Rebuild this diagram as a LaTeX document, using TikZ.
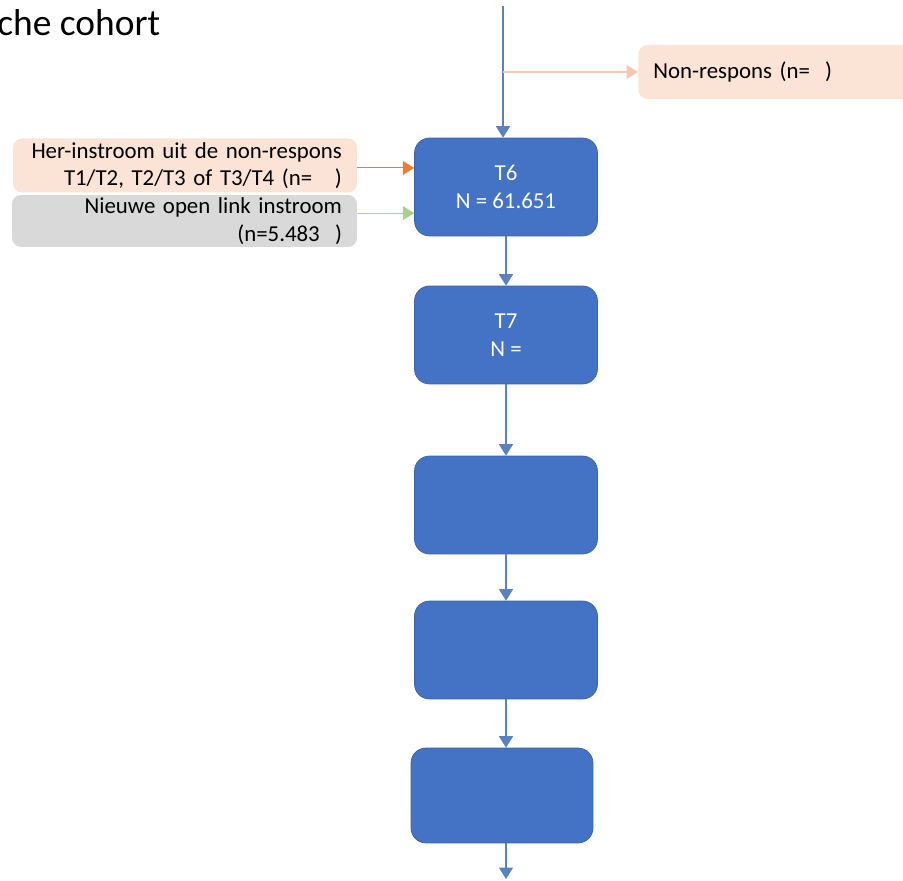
\documentclass[tikz,border=0pt]{standalone}
\usepackage{fontspec}
\setmainfont{Carlito}
\usetikzlibrary{arrows.meta,shapes,positioning,calc}
\definecolor{boxblue}{HTML}{4472C4}
\definecolor{boxborder}{HTML}{3A62A8}
\definecolor{lineblue}{HTML}{5A82C0}
\definecolor{peach}{HTML}{FBE3D5}
\definecolor{greybox}{HTML}{D9D9D9}
\definecolor{orangeline}{HTML}{ED7D31}
\definecolor{greenline}{HTML}{A9D18E}
\definecolor{peachline}{HTML}{F6C9AE}

\begin{document}
\begin{tikzpicture}[x=0.02cm,y=-0.02cm,
  wave/.style={draw=boxborder, rectangle, rounded corners=0.3cm, fill=boxblue, minimum width=3.66cm, minimum height=1.96cm, text=white, align=center, font=\fontsize{13}{15.6}\selectfont},
  sidebox/.style={rectangle, rounded corners=0.18cm, minimum height=1.08cm, inner xsep=0.3cm, inner ysep=0pt, font=\fontsize{13}{15.6}\selectfont},
  flow/.style={draw=lineblue, line width=0.6pt, -{Triangle[width=8pt,length=6.5pt]}}]
\useasboundingbox (0,0) rectangle (903,881);

% Title (cut off at the left)
\node[anchor=base west, inner sep=0pt, font=\fontsize{21.3}{25}\selectfont] (title) at (-3,36) {che cohort};

% Waves
\node[wave] (t6) at (506,187) {T6\\N = 61.651};
\node[wave] (t7) at (506,335) {T7\\N =};
\node[wave] (w8) at (506,505) {};
\node[wave] (w9) at (506,650) {};
\node[wave, minimum width=3.64cm, minimum height=1.9cm] (w10) at (502,795.5) {};

% Side boxes
\node[sidebox, fill=peach, anchor=west, minimum width=5.6cm, text width=5.0cm, align=left] (nonresp) at (638,72) {Non-respons (n=\ \ )};
\node[sidebox, fill=peach, minimum width=6.88cm, text width=6.28cm, align=right] (herin) at (185,165.5) {Her-instroom uit de non-respons\\T1/T2, T2/T3 of T3/T4 (n=\ \ \ )};
\node[sidebox, fill=greybox, minimum width=6.9cm, minimum height=1.04cm, text width=6.3cm, align=right] (nieuw) at (184.5,221) {Nieuwe open link instroom\\(n=5.483\ \ )};

% Connections
\coordinate (start) at (503,6);
\coordinate (split) at (503,72);
\coordinate (end) at (506,879);
\draw[flow] (start) -- (start |- t6.north);
\draw[flow, draw=peachline, -{Triangle[width=8pt,length=6.5pt,fill=peachline]}] (split) -- (nonresp.west);
\draw[flow, draw=orangeline, -{Triangle[width=8pt,length=6.5pt,fill=orangeline]}] ([yshift=-1.4pt]herin.east) -- ([yshift=-1.4pt]herin.east -| t6.west);
\draw[flow, draw=greenline, -{Triangle[width=8pt,length=6.5pt,fill=greenline]}] ([yshift=4.5pt]nieuw.east) -- ([yshift=4.5pt]nieuw.east -| t6.west);
\draw[flow] (t6.south) -- (t7.north);
\draw[flow] (t7.south) -- (w8.north);
\draw[flow] (w8.south) -- (w9.north);
\draw[flow] (w9.south) -- (w9.south |- w10.north);
\draw[flow] (w9.south |- w10.south) -- (end);

\end{tikzpicture}
\end{document}
